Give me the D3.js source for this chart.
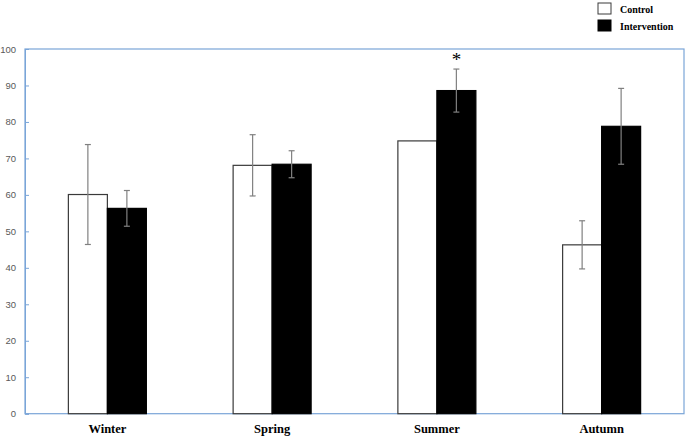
<!DOCTYPE html>
<html>
<head>
<meta charset="utf-8">
<script src="https://cdn.jsdelivr.net/npm/d3@7"></script>
<style>
  body { margin: 0; background: #fff; }
  svg { display: block; }
</style>
</head>
<body>
<script>
var seasons = ["Winter", "Spring", "Summer", "Autumn"];
var groups = ["Control", "Intervention"];
var controlMean = [60.1, 68.1, 74.8, 46.3];
var controlErr = [13.7, 8.4, 0, 6.6];
var interventionMean = [56.3, 68.4, 88.6, 78.8];
var interventionErr = [4.9, 3.7, 5.9, 10.4];
var yTicks = [0, 10, 20, 30, 40, 50, 60, 70, 80, 90, 100];
var starred = ["Summer"];

var width = 685, height = 438;
var plotLeft = 25, plotRight = 684, plotTop = 49, plotBottom = 413.7;

var svg = d3.select("body").append("svg")
    .attr("width", width)
    .attr("height", height);

var x = d3.scaleBand()
    .domain(seasons)
    .range([plotLeft, plotRight]);

var x1 = d3.scaleBand()
    .domain(groups)
    .range([0, 78])
    .paddingInner(0);

var y = d3.scaleLinear()
    .domain([0, 100])
    .range([plotBottom, plotTop]);

// plot box
svg.append("rect")
    .attr("x", plotLeft).attr("y", plotTop)
    .attr("width", plotRight - plotLeft).attr("height", plotBottom - plotTop)
    .attr("fill", "none")
    .attr("stroke", "#7aa5d8")
    .attr("stroke-width", 1.2);

var yAxis = d3.axisLeft(y)
    .tickValues(yTicks)
    .tickSize(-4)
    .tickPadding(9);

var gy = svg.append("g")
    .attr("transform", "translate(" + plotLeft + ",0)")
    .call(yAxis);
gy.select(".domain").attr("stroke", "#7aa5d8");
gy.selectAll(".tick line").attr("stroke", "#7aa5d8");
gy.selectAll(".tick text")
    .attr("fill", "#595959")
    .style("font-family", "'Liberation Sans', Arial, sans-serif")
    .style("font-size", "9.5px");

var rows = seasons.map(function(s, i) {
  return [
    { season: s, group: "Control", v: controlMean[i], e: controlErr[i] },
    { season: s, group: "Intervention", v: interventionMean[i], e: interventionErr[i] }
  ];
});

var gBars = svg.selectAll(".season")
    .data(rows)
    .enter().append("g")
    .attr("class", "season")
    .attr("transform", function(d) {
      return "translate(" + (x(d[0].season) + x.bandwidth() / 2 - 39) + ",0)";
    });

gBars.selectAll("rect")
    .data(function(d) { return d; })
    .enter().append("rect")
    .attr("x", function(d) { return x1(d.group); })
    .attr("y", function(d) { return y(d.v); })
    .attr("width", x1.bandwidth())
    .attr("height", function(d) { return y(0) - y(d.v); })
    .attr("fill", function(d) { return d.group === "Control" ? "#fff" : "#000"; })
    .attr("stroke", function(d) { return d.group === "Control" ? "#3a3a3a" : "#000"; })
    .attr("stroke-width", 1.2);

var err = gBars.selectAll(".err")
    .data(function(d) { return d.filter(function(r) { return r.e > 0; }); })
    .enter().append("g")
    .attr("class", "err")
    .attr("stroke", "#808080")
    .attr("stroke-width", 1.2);

err.append("line")
    .attr("x1", function(d) { return x1(d.group) + x1.bandwidth() / 2; })
    .attr("x2", function(d) { return x1(d.group) + x1.bandwidth() / 2; })
    .attr("y1", function(d) { return y(d.v + d.e); })
    .attr("y2", function(d) { return y(d.v - d.e); });

[1, -1].forEach(function(sign) {
  err.append("line")
    .attr("x1", function(d) { return x1(d.group) + x1.bandwidth() / 2 - 3; })
    .attr("x2", function(d) { return x1(d.group) + x1.bandwidth() / 2 + 3; })
    .attr("y1", function(d) { return y(d.v + sign * d.e); })
    .attr("y2", function(d) { return y(d.v + sign * d.e); });
});

// significance star
seasons.forEach(function(s, i) {
  if (starred.indexOf(s) < 0) return;
  svg.append("text")
    .attr("x", x(s) + x.bandwidth() / 2 - 39 + x1("Intervention") + x1.bandwidth() / 2)
    .attr("y", y(interventionMean[i] + interventionErr[i]) - 3)
    .attr("text-anchor", "middle")
    .style("font-family", "'Liberation Serif', 'Times New Roman', serif")
    .style("font-size", "19px")
    .text("*");
});

// category labels
svg.selectAll(".cat")
    .data(seasons)
    .enter().append("text")
    .attr("class", "cat")
    .attr("x", function(d) { return x(d) + x.bandwidth() / 2; })
    .attr("y", 433)
    .attr("text-anchor", "middle")
    .style("font-family", "'Liberation Serif', 'Times New Roman', serif")
    .style("font-weight", "bold")
    .style("font-size", "12.5px")
    .text(function(d) { return d; });

// legend
var legend = svg.selectAll(".legend")
    .data(groups)
    .enter().append("g")
    .attr("class", "legend")
    .attr("transform", function(d, i) { return "translate(598," + (3 + i * 17) + ")"; });

legend.append("rect")
    .attr("width", 13).attr("height", 11)
    .attr("fill", function(d) { return d === "Control" ? "#fff" : "#000"; })
    .attr("stroke", function(d) { return d === "Control" ? "#3a3a3a" : "#000"; })
    .attr("stroke-width", 1);

legend.append("text")
    .attr("x", 22)
    .attr("y", 9.5)
    .style("font-family", "'Liberation Serif', 'Times New Roman', serif")
    .style("font-weight", "bold")
    .style("font-size", "10px")
    .text(function(d) { return d; });
</script>
</body>
</html>
